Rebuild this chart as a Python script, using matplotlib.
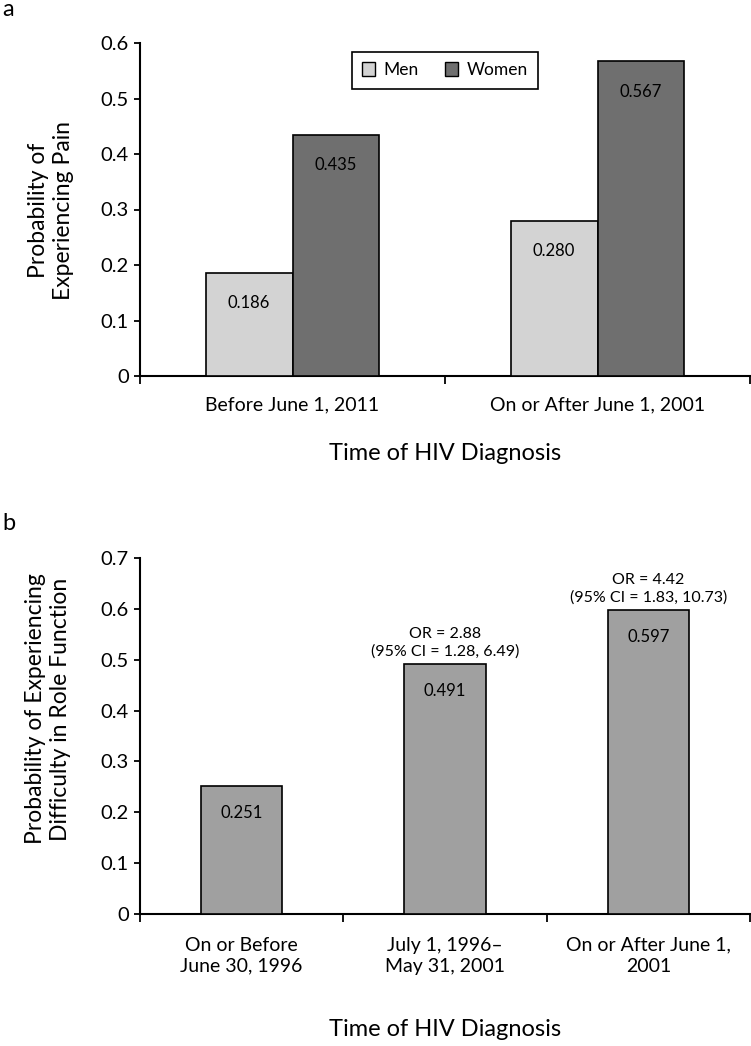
import numpy as np
import matplotlib
matplotlib.use("Agg")
import matplotlib.pyplot as plt
from matplotlib.patches import Patch

plt.rcParams['font.family'] = ['Lato', 'DejaVu Sans']

# panel a data
groups_a = ['Before June 1, 2011', 'On or After June 1, 2001']
men = [0.186, 0.280]
women = [0.435, 0.567]

# panel b data
groups_b = ['On or Before\nJune 30, 1996', 'July 1, 1996–\nMay 31, 2001', 'On or After June 1,\n2001']
role = [0.251, 0.491, 0.597]
or_text = ['', 'OR = 2.88\n(95% CI = 1.28, 6.49)', 'OR = 4.42\n(95% CI = 1.83, 10.73)']

W, H = 751, 1046
fig = plt.figure(figsize=(W / 100, H / 100), dpi=100)

def style_axes(ax, nb, ymax):
    ax.set_xlim(0, nb)
    ax.set_ylim(0, ymax)
    for s in ['top', 'right']:
        ax.spines[s].set_visible(False)
    for s in ['left', 'bottom']:
        ax.spines[s].set_linewidth(1.5)
    ax.set_xticks(np.arange(nb + 1))
    ax.set_xticklabels([])
    ax.tick_params(axis='x', direction='out', length=5.5, width=1.3)
    ax.set_yticks(np.round(np.arange(0, ymax + 0.01, 0.1), 1))
    ax.set_yticklabels(['0'] + ['%.1f' % v for v in np.arange(0.1, ymax + 0.01, 0.1)])
    ax.tick_params(axis='y', direction='out', length=4, width=1.3, labelsize=14.5, pad=4)

# ---- panel a ----
ax = fig.add_axes([140 / W, 1 - 376 / H, 610 / W, 333 / H])
style_axes(ax, 2, 0.6)
x = np.arange(2) + 0.5
bw = 0.285
ax.bar(x - bw / 2, men, bw, color='#d3d3d3', edgecolor='black', linewidth=1.2, zorder=3)
ax.bar(x + bw / 2, women, bw, color='#6f6f6f', edgecolor='black', linewidth=1.2, zorder=3)
for xi, v in zip(x - bw / 2, men):
    ax.annotate('%.3f' % v, (xi, v), xytext=(0, -22), textcoords='offset points',
                ha='center', va='center', fontsize=12)
for xi, v in zip(x + bw / 2, women):
    ax.annotate('%.3f' % v, (xi, v), xytext=(0, -22), textcoords='offset points',
                ha='center', va='center', fontsize=12)
for xi, lab in zip(x, groups_a):
    ax.annotate(lab, (xi, 0), xycoords=('data', 'axes fraction'), xytext=(0, -21),
                textcoords='offset points', ha='center', va='center', fontsize=14)
ax.annotate('Time of HIV Diagnosis', (0.5, 0), xycoords='axes fraction', xytext=(0, -56),
            textcoords='offset points', ha='center', va='center', fontsize=17)
leg = ax.legend(handles=[Patch(facecolor='#d3d3d3', edgecolor='black', label='Men'),
                         Patch(facecolor='#6f6f6f', edgecolor='black', label='Women')],
                loc='upper center', bbox_to_anchor=(0.5, 1.0), ncol=2, fontsize=12.5,
                fancybox=False, edgecolor='black', framealpha=1, handlelength=0.75,
                handleheight=0.85, handletextpad=0.5, columnspacing=1.5, borderpad=0.6)
leg.get_frame().set_linewidth(1.2)
fig.text(51 / W, 1 - 210 / H, 'Probability of\nExperiencing Pain', rotation=90,
         ha='center', va='center', multialignment='center', fontsize=16.5, linespacing=1.25)
fig.text(2 / W, 1 - 9 / H, 'a', ha='left', va='center', fontsize=17)

# ---- panel b ----
ax = fig.add_axes([140 / W, 1 - 914 / H, 610 / W, 356 / H])
style_axes(ax, 3, 0.7)
x = np.arange(3) + 0.5
bw = 0.4
ax.bar(x, role, bw, color='#a0a0a0', edgecolor='black', linewidth=1.2, zorder=3)
for xi, v, t in zip(x, role, or_text):
    ax.annotate('%.3f' % v, (xi, v), xytext=(0, -19), textcoords='offset points',
                ha='center', va='center', fontsize=12)
    if t:
        ax.annotate(t, (xi, v), xytext=(0, 4), textcoords='offset points',
                    ha='center', va='bottom', fontsize=11.5, linespacing=1.3)
for xi, lab in zip(x, groups_b):
    ax.annotate(lab, (xi, 0), xycoords=('data', 'axes fraction'), xytext=(0, -30),
                textcoords='offset points', ha='center', va='center', fontsize=14,
                linespacing=1.3)
ax.annotate('Time of HIV Diagnosis', (0.5, 0), xycoords='axes fraction', xytext=(0, -83),
            textcoords='offset points', ha='center', va='center', fontsize=17)
fig.text(48 / W, 1 - 709 / H, 'Probability of Experiencing\nDifficulty in Role Function',
         rotation=90, ha='center', va='center', multialignment='center', fontsize=16.5,
         linespacing=1.25)
fig.text(2 / W, 1 - 523 / H, 'b', ha='left', va='center', fontsize=17)

fig.savefig('out.png', dpi=100)
